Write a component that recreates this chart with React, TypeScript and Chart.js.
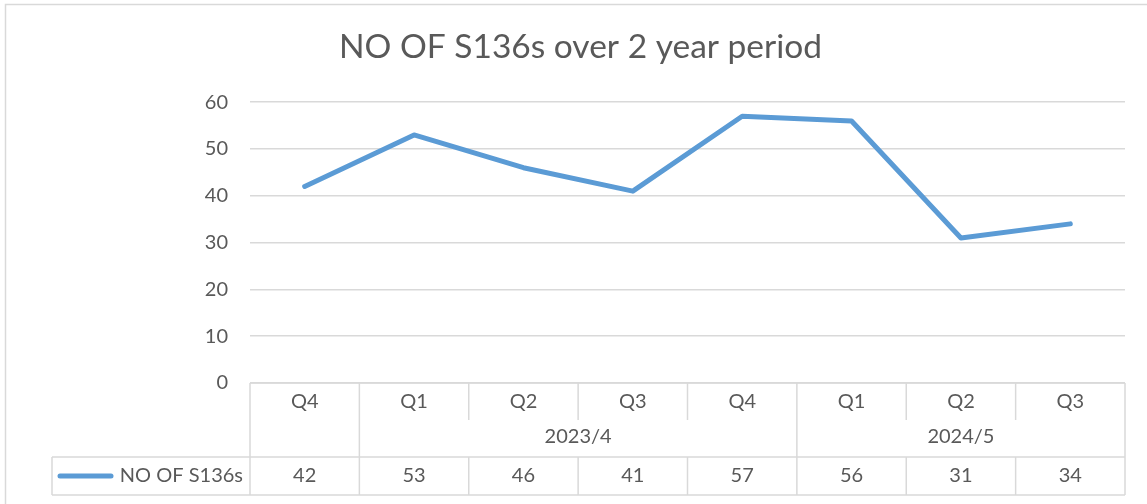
import React, { useEffect, useRef } from "react";
import { Chart, registerables } from "chart.js";

Chart.register(...registerables);

const quarters = ["Q4", "Q1", "Q2", "Q3", "Q4", "Q1", "Q2", "Q3"];
const yearLabels = ["", "2023/4", "2024/5"];
const yearStartIndex = [0, 1, 5];
const seriesName = "NO OF S136s";
const counts = [42, 53, 46, 41, 57, 56, 31, 34];
const chartTitle = "NO OF S136s over 2 year period";

const TEXT = "#595959";
const GRID = "#d9d9d9";
const LINE = "#5b9bd5";
const FONT = "Lato, 'Open Sans', sans-serif";

const borderPlugin = {
  id: "outerBorder",
  beforeDraw(chart: any) {
    const ctx = chart.ctx;
    ctx.save();
    ctx.fillStyle = "#ffffff";
    ctx.fillRect(0, 0, chart.width, chart.height);
    ctx.strokeStyle = GRID;
    ctx.lineWidth = 1.5;
    ctx.strokeRect(5.5, 4.5, chart.width + 50, chart.height + 50);
    ctx.restore();
  },
};

const tablePlugin = {
  id: "dataTable",
  afterDraw(chart: any) {
    const ctx = chart.ctx;
    const area = chart.chartArea;
    const xs = chart.scales.x;
    const n = quarters.length;
    const w = (area.right - area.left) / n;
    const top = area.bottom;
    const r1 = top + 37;
    const r2 = top + 74;
    const r3 = top + 112;
    const legendLeft = 52;

    ctx.save();
    ctx.strokeStyle = GRID;
    ctx.lineWidth = 1.5;
    const line = (x1: number, y1: number, x2: number, y2: number) => {
      ctx.beginPath();
      ctx.moveTo(x1, y1);
      ctx.lineTo(x2, y2);
      ctx.stroke();
    };
    line(area.left, top, area.right, top);
    line(legendLeft, r2, area.right, r2);
    line(legendLeft, r3, area.right, r3);
    line(legendLeft, r2, legendLeft, r3);
    for (let b = 0; b <= n; b++) {
      const x = area.left + b * w;
      const full = b === 0 || b === n || yearStartIndex.indexOf(b) >= 0;
      if (full) {
        line(x, top, x, r3);
      } else {
        line(x, top, x, r1);
        line(x, r2, x, r3);
      }
    }

    ctx.fillStyle = TEXT;
    ctx.font = `20px ${FONT}`;
    ctx.textAlign = "center";
    ctx.textBaseline = "middle";
    quarters.forEach((q, i) => {
      const cx = xs.getPixelForValue(i);
      ctx.fillText(q, cx, top + 19);
      ctx.fillText(String(counts[i]), cx, r2 + 19);
    });
    yearLabels.forEach((lab, g) => {
      const s = yearStartIndex[g];
      const e = g + 1 < yearStartIndex.length ? yearStartIndex[g + 1] : n;
      const cx = area.left + ((s + e) / 2) * w;
      ctx.fillText(lab, cx, r1 + 17);
    });

    // legend key
    ctx.strokeStyle = LINE;
    ctx.lineWidth = 5;
    ctx.lineCap = "round";
    line(60, r2 + 19, 111, r2 + 19);
    ctx.textAlign = "right";
    ctx.fillText(seriesName, area.left - 7, r2 + 19);
    ctx.restore();
  },
};

export default function App() {
  const ref = useRef<HTMLCanvasElement | null>(null);
  useEffect(() => {
    document.body.style.margin = "0";
    const chart = new Chart(ref.current as HTMLCanvasElement, {
      type: "line",
      data: {
        labels: quarters,
        datasets: [
          {
            label: seriesName,
            data: counts,
            borderColor: LINE,
            backgroundColor: LINE,
            borderWidth: 5,
            pointRadius: 0,
            borderCapStyle: "round",
            borderJoinStyle: "round",
            tension: 0,
          },
        ],
      },
      options: {
        animation: false,
        responsive: false,
        devicePixelRatio: 1,
        layout: { padding: { top: 0, right: 22, bottom: 121, left: 36 } },
        plugins: {
          legend: { display: false },
          tooltip: { enabled: false },
          title: {
            display: true,
            text: chartTitle,
            color: TEXT,
            font: { family: FONT, size: 33.5, weight: "normal" },
            padding: { top: 27, bottom: 35 },
          },
        },
        scales: {
          x: {
            type: "category",
            display: false,
            offset: true,
          },
          y: {
            min: 0,
            max: 60,
            ticks: {
              stepSize: 10,
              color: TEXT,
              padding: 22,
              font: { family: FONT, size: 20 },
            },
            grid: { color: GRID, lineWidth: 1.5, drawTicks: false },
            border: { display: false },
            afterFit(scale: any) {
              scale.width = 214;
            },
          },
        },
      },
      plugins: [borderPlugin, tablePlugin],
    } as any);
    return () => chart.destroy();
  }, []);
  return (
    <div style={{ width: 1147, height: 504 }}>
      <canvas ref={ref} width={1147} height={504} />
    </div>
  );
}
